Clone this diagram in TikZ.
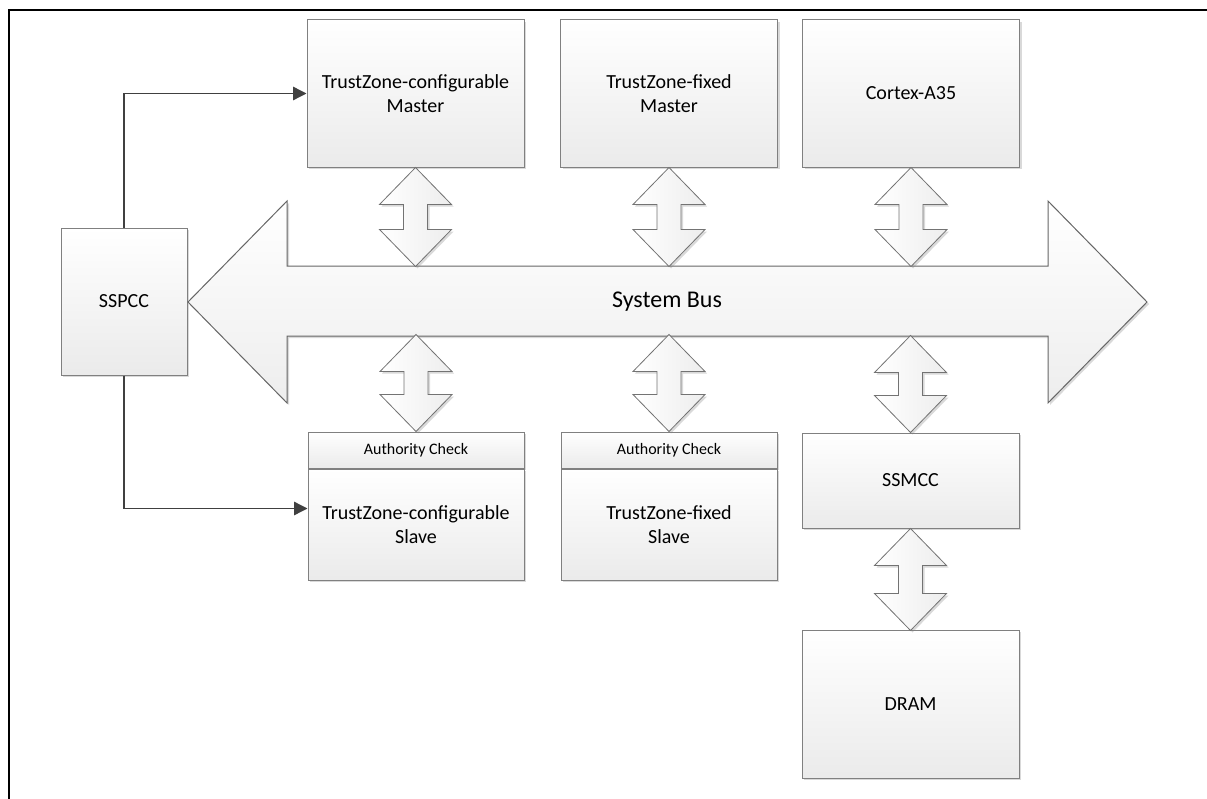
\documentclass[tikz,border=0pt]{standalone}
\usepackage{fontspec}
\setmainfont{Carlito}
\usetikzlibrary{positioning,shadows,arrows.meta}

% double-headed block arrow: start anchor, head height, shaft length (signed)
\newcommand{\biarrow}[3]{%
  \draw[bi] (#1) -- ++(36,#2) -- ++(-24,0) -- ++(0,#3) -- ++(24,0) -- ++(-36,#2)
    -- ++(-36,{(-1)*(#2)}) -- ++(24,0) -- ++(0,{(-1)*(#3)}) -- ++(-24,0) -- cycle;}

\begin{document}
\begin{tikzpicture}[x=0.75pt, y=-0.75pt,
  shade/.style={drop shadow={shadow xshift=1.5pt, shadow yshift=-1.5pt, opacity=0.3}},
  box/.style={draw=black!50, line width=0.75pt, top color=white, bottom color=black!8,
    shade, align=center, inner sep=0pt, font=\fontsize{15}{18}\selectfont},
  big/.style={box, minimum width=162.75pt, minimum height=110.25pt},
  body/.style={box, minimum width=162pt, minimum height=83.25pt},
  hdr/.style={box, minimum width=162pt, minimum height=27pt, font=\fontsize{12}{14}\selectfont},
  bi/.style={draw=black!55, line width=0.6pt, left color=white, right color=black!7, shade},
  ctl/.style={draw=black!75, line width=1pt, -{Triangle[length=10pt,width=10pt]}}]
\useasboundingbox (0,0) rectangle (1207,799);

% frame
\draw[line width=1.5pt] (9,799) -- (9,10) -- (1207,10);

% masters
\node[big] (tzcm) at (415.5,93.5) {TrustZone-configurable\\Master};
\node[big] (tzfm) at (669,93.5) {TrustZone-fixed\\Master};
\node[big] (cortex) at (911,93.5) {Cortex-A35};

% controller
\node[big, minimum width=94.5pt] (sspcc) at (124,301.5) {SSPCC};

% system bus
\draw[draw=black!60, line width=0.75pt, top color=white, bottom color=black!7, shade]
  (188,302) -- (287,201) -- (287,266) -- (1048,266) -- (1048,201) -- (1147,302)
  -- (1048,403) -- (1048,336) -- (287,336) -- (287,403) -- cycle;
\node[font=\fontsize{18}{22}\selectfont] (bus) at (667,302) {System Bus};

% slaves
\node[body] (tzcs) at (416,524.5) {TrustZone-configurable\\Slave};
\node[hdr, above=0pt of tzcs] (tzcshdr) {Authority Check};
\node[body] (tzfs) at (669,524.5) {TrustZone-fixed\\Slave};
\node[hdr, above=0pt of tzfs] (tzfshdr) {Authority Check};

% memory side
\node[big, minimum height=71.25pt] (ssmcc) at (910.5,480.5) {SSMCC};
\node[big, minimum height=111pt] (dram) at (910.5,704) {DRAM};

% bus links
\biarrow{tzcm.south}{37}{25}
\biarrow{tzfm.south}{37}{25}
\biarrow{cortex.south}{37}{25}
\biarrow{tzcshdr.north}{-37}{-23}
\biarrow{tzfshdr.north}{-37}{-23}
\biarrow{ssmcc.north}{-37}{-23}
\biarrow{ssmcc.south}{37}{28}

% control lines
\draw[ctl] (sspcc.north) |- (tzcm.west);
\draw[ctl] (sspcc.south) |- ([yshift=12pt]tzcs.west);
\end{tikzpicture}
\end{document}
